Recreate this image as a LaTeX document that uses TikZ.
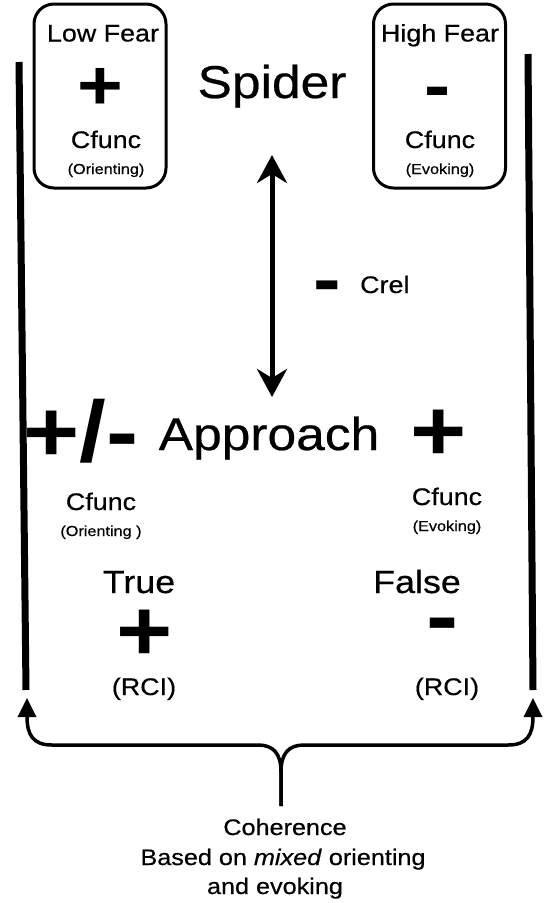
\documentclass[tikz,border=0pt]{standalone}
\usepackage{fontspec}
\setmainfont{Liberation Sans}[FakeStretch=1.12, UprightFeatures={FakeBold=0.5}, ItalicFeatures={FakeBold=0.5}]
\usetikzlibrary{arrows.meta}
\begin{document}
\begin{tikzpicture}[x=1pt,y=-1pt,
  fearbox/.style={draw, line width=3pt, rounded corners=20pt, minimum width=132pt, minimum height=184pt, inner sep=0pt},
  lbl/.style={inner sep=0pt, anchor=base},
  big/.style={lbl, font=\fontsize{46}{50}\selectfont},
  mid/.style={lbl, font=\fontsize{32}{36}\selectfont},
  reg/.style={lbl, font=\fontsize{24}{28}\selectfont},
  captext/.style={lbl, font=\fontsize{22.5}{26}\selectfont},
  tiny/.style={lbl, font=\fontsize{14.5}{17}\selectfont},
  symbase/.style={lbl, text height=0.6em, text depth=0pt},
  sym/.style={symbase, font=\fontsize{86}{86}\selectfont\bfseries},
  boxsym/.style={symbase, font=\fontsize{70}{70}\selectfont\bfseries},
  smallsym/.style={symbase, font=\fontsize{74}{74}\selectfont\bfseries},
  bar/.style={line width=7pt},
  dblarrow/.style={line width=5pt, {Stealth[length=28pt,width=30pt,inset=9pt]}-{Stealth[length=28pt,width=30pt,inset=9pt]}},
  brace/.style={line width=3.5pt, -{Triangle[length=19pt,width=18pt]}}
]
\useasboundingbox (0,0) rectangle (545,903);

% fear boxes
\node[fearbox] (lowbox) at (100,96) {};
\node[fearbox] (highbox) at (439.5,96) {};
\node[reg] (lowfear) at (103,41.5) {Low Fear};
\node[boxsym] (lowplus) at (100,109) {+};
\node[reg] (lowcf) at (106,148) {Cfunc};
\node[tiny] (lowor) at (106,174) {(Orienting)};
\node[reg] (highfear) at (440,41.5) {High Fear};
\node[boxsym] (highminus) at (438,109.5) {-};
\node[reg] (highcf) at (440,148) {Cfunc};
\node[tiny] (highev) at (440,174) {(Evoking)};

% centre
\node[big] (spider) at (272,98) {Spider};
\node[big] (approach) at (269,450) {Approach};
\coordinate (atop) at (272,155);
\coordinate (abot) at (272,397);
\draw[dblarrow] (atop) -- (abot);
\node[smallsym] (crelminus) at (327,304) {-};
\node[reg, anchor=base west] (crel) at (360,293) {Crel};

% approach row
\node[sym] (pm) at (81,461) {+/-};
\node[sym] (rplus) at (439,460) {+};
\node[reg] (lcf) at (101,510) {Cfunc};
\node[tiny] (lor) at (101,536) {(Orienting )};
\node[reg] (rcf) at (447,505) {Cfunc};
\node[tiny] (rev) at (447,531) {(Evoking)};
\node[mid] (true) at (139,593) {True};
\node[mid] (false) at (417,593) {False};
\node[sym] (tplus) at (145,660) {+};
\node[sym] (fminus) at (443,645) {-};
\node[reg] (lrci) at (144,695) {(RCI)};
\node[reg] (rrci) at (447,695) {(RCI)};

% side bars
\coordinate (lbtop) at (19,62);
\coordinate (lbbot) at (26,690);
\coordinate (rbtop) at (528,54);
\coordinate (rbbot) at (533,690);
\draw[bar] (lbtop) -- (lbbot);
\draw[bar] (rbtop) -- (rbbot);

% brace
\coordinate (stem) at (281,806);
\coordinate (cusp) at (281,772);
\coordinate (ltip) at (27,698);
\coordinate (rtip) at (533,698);
\draw[brace] (stem) -- (cusp) .. controls (281,753) and (273,745) .. (258,745) -- (52,745) .. controls (33,745) and (27,735) .. (ltip);
\draw[brace] (stem) -- (cusp) .. controls (281,753) and (289,745) .. (304,745) -- (508,745) .. controls (527,745) and (533,735) .. (rtip);

% caption
\node[captext] (coh) at (285,835) {Coherence};
\node[captext] (based) at (283,865) {Based on \textit{mixed} orienting};
\node[captext] (andev) at (275,894) {and evoking};
\end{tikzpicture}
\end{document}
